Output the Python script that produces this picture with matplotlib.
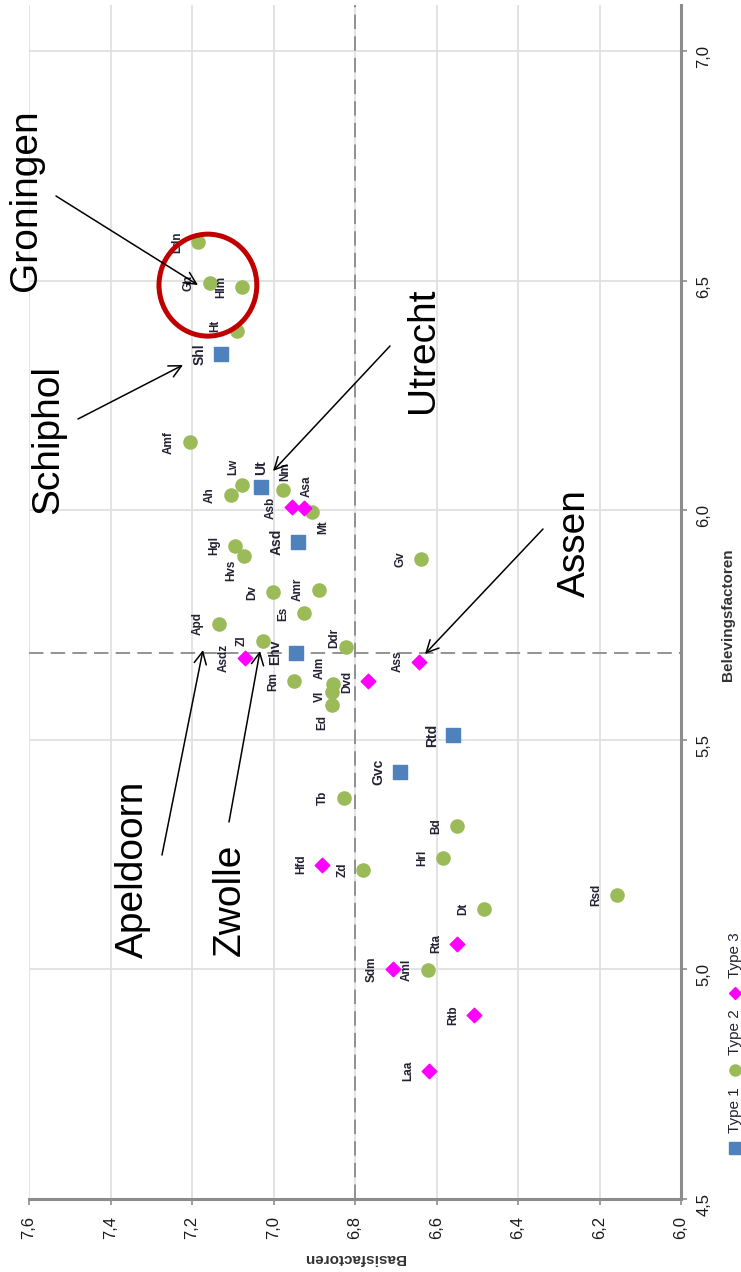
import matplotlib
matplotlib.use("Agg")
import matplotlib.pyplot as plt
from matplotlib.patches import Ellipse
from matplotlib.lines import Line2D
from matplotlib.ticker import FuncFormatter, MultipleLocator

# ---------------- data (Basisfactoren, Belevingsfactoren) ----------------
type1_names = ["Shl", "Ut", "Asd", "Ehv", "Rtd", "Gvc"]
type1_basis = [7.13, 7.03, 6.94, 6.945, 6.56, 6.69]
type1_bel = [6.34, 6.05, 5.93, 5.69, 5.51, 5.43]

type2_names = ["Ldn", "Gn", "Hlm", "Ht", "Amf", "Ah", "Lw", "Nm", "Mt", "Hgl",
               "Hvs", "Gv", "Dv", "Amr", "Es", "Apd", "Zl", "Rm", "Ddr", "Alm",
               "Vl", "Ed", "Tb", "Bd", "Hrl", "Zd", "Rsd", "Dt", "Aml"]
type2_basis = [7.185, 7.156, 7.077, 7.09, 7.205, 7.104, 7.077, 6.977, 6.906, 7.094,
               7.072, 6.638, 7.001, 6.888, 6.925, 7.134, 7.026, 6.95, 6.822, 6.854,
               6.856, 6.856, 6.827, 6.55, 6.584, 6.78, 6.157, 6.483, 6.621]
type2_bel = [6.584, 6.494, 6.486, 6.39, 6.148, 6.032, 6.054, 6.043, 5.995, 5.923,
             5.901, 5.893, 5.821, 5.827, 5.775, 5.753, 5.716, 5.627, 5.701, 5.622,
             5.605, 5.575, 5.374, 5.313, 5.243, 5.217, 5.163, 5.132, 4.999]

type3_names = ["Asdz", "Asb", "Asa", "Dvd", "Ass", "Hfd", "Rta", "Sdm", "Rtb", "Laa"]
type3_basis = [7.07, 6.955, 6.925, 6.768, 6.643, 6.881, 6.55, 6.707, 6.508, 6.618]
type3_bel = [5.679, 6.006, 6.004, 5.627, 5.67, 5.228, 5.056, 5.001, 4.901, 4.779]

basis_mean = 6.8
bel_mean = 5.69

# highlighted cities: (name, text centre px, arrow tail px, arrow head px)
callouts = [
    ("Groningen", (26, 200), (56, 196), (198, 285)),
    ("Schiphol", (48, 440), (78, 419), (183, 365)),
    ("Utrecht", (423, 350), (390, 346), (273, 471)),
    ("Assen", (575, 543), (543, 529), (425, 654)),
    ("Apeldoorn", (133, 869), (162, 855), (203, 650)),
    ("Zwolle", (230, 900), (229, 822), (260, 651)),
]

# label offsets in pixels (dx, dy down), default is left of the marker
label_shift = {"Lw": (-9, -18), "Ut": (0, -20), "Nm": (2, -19), "Asa": (3, -22),
               "Mt": (11, 15), "Hvs": (-13, 15), "Ddr": (-12, -10), "Alm": (-13, -16),
               "Vl": (-12, 5), "Ed": (-10, 17), "Ht": (-22, -5)}

W, H = 741, 1272
narrow = ["Liberation Sans Narrow", "Liberation Sans", "DejaVu Sans"]
c_blue = "#4F81BD"
c_green = "#9BBB59"
c_pink = "#FF00FF"
c_axis = "#8C8C8C"


def fpx(x, y):
    return (x / W, 1 - y / H)


fig = plt.figure(figsize=(W / 100, H / 100), dpi=100)
ax = fig.add_axes([29 / W, 1 - 1199 / H, (681 - 29) / W, (1199 - 5) / H])

ax.set_xlim(7.6, 6.0)
ax.set_ylim(4.5, 7.1)
ax.xaxis.set_major_locator(MultipleLocator(0.2))
ax.yaxis.set_major_locator(MultipleLocator(0.5))
comma = FuncFormatter(lambda v, p: ("%.1f" % v).replace(".", ","))
ax.xaxis.set_major_formatter(comma)
ax.yaxis.set_major_formatter(comma)
ax.yaxis.tick_right()
ax.grid(True, color="#E0E0E0", lw=1.3, zorder=0)
ax.set_axisbelow(True)

for s in ["top", "left"]:
    ax.spines[s].set_visible(False)
for s in ["right", "bottom"]:
    ax.spines[s].set_color(c_axis)
    ax.spines[s].set_linewidth(2.2)
ax.tick_params(axis="both", colors=c_axis, length=4, width=1.2, labelcolor="#1a1a1a")
ax.tick_params(axis="x", labelrotation=90, pad=8)
ax.tick_params(axis="y", labelrotation=90, pad=7)
for lab in ax.get_xticklabels() + ax.get_yticklabels():
    lab.set_family(narrow)
    lab.set_fontsize(12)

ax.axvline(basis_mean, color="#8A8A8A", lw=1.3, ls=(0, (8, 4)), zorder=1)
ax.axhline(bel_mean, color="#8A8A8A", lw=1.3, ls=(0, (8, 4)), zorder=1)

ax.scatter(type1_basis, type1_bel, marker="s", s=100, color=c_blue, zorder=3)
ax.scatter(type2_basis, type2_bel, marker="o", s=90, color=c_green, zorder=3)
ax.scatter(type3_basis, type3_bel, marker="D", s=55, color=c_pink, zorder=3)


def put_labels(names, xs, ys, size):
    for n, x, y in zip(names, xs, ys):
        dx, dy = label_shift.get(n, (-21, 0))
        ax.annotate(n, (x, y), xytext=(dx * 0.72, -dy * 0.72), textcoords="offset points",
                    rotation=90, ha="center", va="center", fontsize=size,
                    family=narrow, color="#222233", weight="bold", zorder=4)


put_labels(type1_names, type1_basis, type1_bel, 10)
put_labels(type2_names, type2_basis, type2_bel, 8.5)
put_labels(type3_names, type3_basis, type3_bel, 8.5)

# red circle round the Groningen cluster
ax.add_patch(Ellipse((7.161, 6.49), 0.24, 0.222, fill=False, ec="#C00000", lw=3.6, zorder=5))

# axis titles (chart is turned a quarter)
fig.text(*fpx(354, 1258), "Basisfactoren", rotation=180, ha="center", va="center",
         fontsize=11, family=narrow, weight="bold", color="#333333")
fig.text(*fpx(728, 615), "Belevingsfactoren", rotation=90, ha="center", va="center",
         fontsize=11, family=narrow, weight="bold", color="#333333")

# legend, drawn by hand so it can lie on its side
leg = [(1148, 1110, "s", c_blue, "Type 1", 8),
       (1070, 1032, "o", c_green, "Type 2", 8),
       (993, 955, "D", c_pink, "Type 3", 6)]
for my, ty, mk, col, txt, ms in leg:
    fig.add_artist(Line2D([735 / W], [1 - my / H], marker=mk, color=col, ms=ms,
                          ls="none", transform=fig.transFigure))
    fig.text(*fpx(735, ty), txt, rotation=90, ha="center", va="center", fontsize=11,
             family=narrow, color="#222233")

# callouts
for name, tpos, tail, head in callouts:
    fig.text(*fpx(*tpos), name, rotation=90, ha="center", va="center", fontsize=28,
             family=["Liberation Sans", "DejaVu Sans"], color="black")
    ax.annotate("", xy=fpx(*head), xycoords="figure fraction",
                xytext=fpx(*tail), textcoords="figure fraction",
                arrowprops=dict(arrowstyle="->", lw=1.1, color="black", mutation_scale=22,
                                shrinkA=0, shrinkB=0), zorder=6)

fig.savefig("out.png", dpi=100)
